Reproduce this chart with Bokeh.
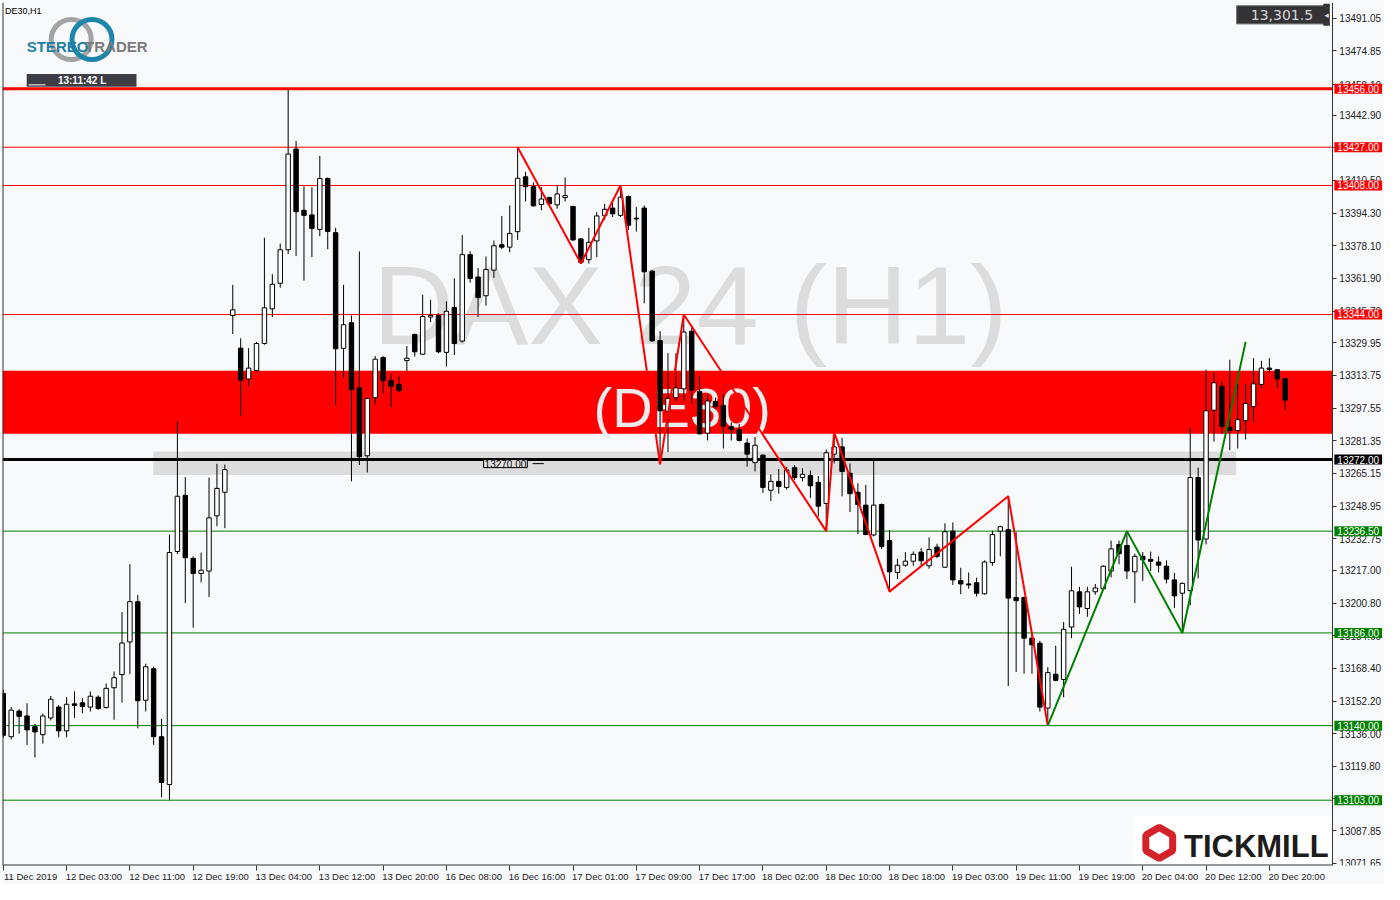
from bokeh.plotting import figure
from bokeh.models import (Range1d, LinearAxis, FixedTicker, Span, BoxAnnotation,
                          Label, NumeralTickFormatter, ColumnDataSource)
from bokeh.embed import file_html
from bokeh.resources import INLINE

# ---------------- data (DE30, H1, 11-20 Dec 2019) ----------------
open_ = [13156.0, 13134.5, 13147.2, 13144.8, 13139.5, 13135.5, 13143.8, 13149.2, 13137.4, 13150.8,
         13151.3, 13149.2, 13154.1, 13149.0, 13158.8, 13165.3, 13181.5, 13201.5, 13152.6, 13168.2,
         13134.5, 13110.8, 13226.4, 13254.3, 13223.0, 13215.5, 13216.7, 13244.1, 13255.8, 13343.5,
         13327.3, 13312.0, 13316.2, 13329.6, 13346.8, 13359.5, 13376.1, 13426.1, 13395.7, 13393.4,
         13386.2, 13411.5, 13384.6, 13327.2, 13339.9, 13307.6, 13273.9, 13302.7, 13322.6, 13311.2,
         13309.3, 13321.1, 13334.1, 13324.3, 13342.7, 13343.5, 13325.2, 13347.5, 13330.8, 13373.7,
         13362.6, 13353.3, 13366.0, 13378.6, 13377.4, 13385.1, 13412.3, 13407.4, 13398.6, 13402.0,
         13398.4, 13402.0, 13397.6, 13381.5, 13371.2, 13380.5, 13393.0, 13396.8, 13393.2, 13402.5,
         13391.8, 13396.8, 13365.5, 13331.1, 13295.9, 13302.7, 13307.1, 13335.7, 13305.7, 13285.1,
         13300.9, 13298.9, 13288.4, 13286.8, 13280.2, 13270.5, 13274.2, 13256.8, 13261.2, 13258.2,
         13268.0, 13263.1, 13264.1, 13260.7, 13250.2, 13274.7, 13278.3, 13265.2, 13255.8, 13249.4,
         13234.6, 13249.7, 13231.8, 13216.0, 13219.6, 13221.6, 13226.1, 13219.3, 13228.6, 13218.6,
         13236.5, 13211.9, 13210.3, 13210.9, 13205.4, 13220.9, 13236.5, 13237.2, 13203.6, 13203.6,
         13183.4, 13180.9, 13148.7, 13165.5, 13162.9, 13188.9, 13206.4, 13198.1, 13206.4, 13207.9,
         13216.7, 13229.9, 13229.4, 13216.3, 13224.0, 13222.5, 13221.2, 13219.1, 13212.3, 13205.7,
         13207.0, 13263.1, 13232.6, 13296.5, 13308.4, 13288.1, 13286.4, 13291.3, 13298.3, 13309.3,
         13317.4, 13316.6, 13312.2]
high = [13157.9, 13149.2, 13148.2, 13151.1, 13140.9, 13145.9, 13154.7, 13150.2, 13154.1, 13157.0,
        13153.6, 13157.0, 13155.0, 13160.9, 13166.9, 13196.3, 13220.1, 13204.9, 13170.7, 13169.2,
        13143.3, 13234.8, 13291.0, 13263.3, 13224.0, 13225.9, 13263.1, 13269.9, 13269.5, 13358.7,
        13332.2, 13327.3, 13330.4, 13382.1, 13364.0, 13379.2, 13456.0, 13430.1, 13407.6, 13407.1,
        13422.7, 13412.0, 13387.0, 13358.7, 13343.5, 13375.3, 13302.5, 13323.4, 13323.4, 13314.6,
        13313.7, 13328.3, 13334.5, 13353.8, 13351.3, 13344.6, 13350.5, 13361.9, 13383.4, 13375.3,
        13367.1, 13372.8, 13380.7, 13392.9, 13398.1, 13427.0, 13414.8, 13409.5, 13407.1, 13402.5,
        13408.4, 13412.0, 13398.0, 13382.0, 13387.0, 13394.8, 13398.9, 13399.7, 13408.0, 13403.0,
        13397.3, 13398.1, 13366.0, 13335.8, 13324.8, 13324.8, 13344.0, 13338.6, 13313.3, 13304.4,
        13302.7, 13304.4, 13290.5, 13289.7, 13282.4, 13283.2, 13274.6, 13264.7, 13267.3, 13268.5,
        13269.3, 13267.7, 13266.6, 13263.9, 13277.0, 13285.6, 13282.8, 13270.1, 13260.3, 13259.5,
        13272.9, 13250.2, 13237.0, 13222.8, 13226.1, 13226.4, 13228.1, 13233.4, 13230.2, 13240.4,
        13240.8, 13218.3, 13216.0, 13213.4, 13222.0, 13236.7, 13239.2, 13253.8, 13235.9, 13204.0,
        13186.1, 13182.1, 13169.0, 13179.6, 13191.4, 13218.8, 13208.9, 13208.9, 13210.3, 13219.6,
        13231.8, 13231.8, 13236.5, 13225.3, 13226.1, 13226.4, 13224.0, 13222.0, 13215.8, 13211.0,
        13287.6, 13268.0, 13316.6, 13315.5, 13310.9, 13321.5, 13309.6, 13309.6, 13322.3, 13321.0,
        13322.3, 13316.9, 13312.5]
low = [13134.0, 13133.2, 13136.0, 13130.4, 13124.2, 13131.1, 13142.6, 13134.3, 13134.3, 13143.8,
       13146.2, 13147.0, 13147.8, 13148.5, 13142.9, 13151.4, 13165.6, 13138.7, 13147.0, 13130.4,
       13104.5, 13103.0, 13225.1, 13200.8, 13188.6, 13211.1, 13203.8, 13238.9, 13238.0, 13334.3,
       13293.7, 13308.4, 13315.3, 13329.0, 13342.7, 13357.3, 13374.0, 13373.0, 13360.8, 13372.5,
       13382.8, 13376.4, 13299.1, 13312.5, 13261.2, 13269.3, 13265.6, 13299.1, 13304.8, 13298.1,
       13305.5, 13315.8, 13323.1, 13324.0, 13340.2, 13324.8, 13318.2, 13323.9, 13330.0, 13359.8,
       13342.7, 13348.4, 13362.2, 13376.4, 13374.9, 13381.0, 13400.1, 13397.5, 13395.7, 13398.5,
       13396.5, 13400.1, 13380.5, 13369.3, 13369.3, 13372.5, 13390.8, 13392.4, 13392.4, 13385.9,
       13385.1, 13349.5, 13330.4, 13270.0, 13275.8, 13301.1, 13301.1, 13299.5, 13284.5, 13281.5,
       13297.0, 13277.5, 13281.5, 13281.0, 13268.5, 13266.1, 13255.5, 13251.4, 13255.1, 13257.1,
       13261.9, 13261.2, 13253.0, 13243.7, 13236.5, 13270.1, 13253.8, 13246.0, 13235.0, 13234.5,
       13233.9, 13227.7, 13206.5, 13212.7, 13218.8, 13219.3, 13219.6, 13217.9, 13223.2, 13218.3,
       13209.8, 13205.2, 13207.9, 13204.1, 13205.0, 13219.3, 13224.0, 13159.7, 13166.6, 13165.8,
       13165.8, 13147.0, 13140.0, 13162.0, 13154.1, 13183.4, 13195.4, 13194.0, 13204.9, 13207.4,
       13213.5, 13220.1, 13212.7, 13200.8, 13211.8, 13216.7, 13216.0, 13210.6, 13198.4, 13186.0,
       13199.7, 13213.0, 13229.9, 13281.0, 13284.8, 13276.6, 13277.5, 13282.0, 13290.5, 13307.6,
       13314.9, 13307.6, 13296.6]
close = [13135.2, 13147.7, 13144.6, 13137.9, 13136.9, 13144.8, 13153.1, 13137.4, 13150.6, 13150.0,
         13149.5, 13154.6, 13148.5, 13158.5, 13163.8, 13181.0, 13201.5, 13152.4, 13169.2, 13134.5,
         13111.8, 13225.9, 13253.8, 13223.3, 13215.5, 13217.1, 13243.1, 13257.7, 13267.0, 13346.3,
         13311.4, 13317.4, 13329.6, 13347.3, 13359.0, 13376.1, 13423.6, 13395.0, 13393.2, 13386.7,
         13411.5, 13385.2, 13327.0, 13338.9, 13306.8, 13273.4, 13302.3, 13321.8, 13311.2, 13308.4,
         13306.3, 13322.3, 13325.5, 13343.0, 13343.5, 13325.5, 13345.6, 13329.6, 13373.7, 13361.9,
         13352.4, 13366.3, 13378.1, 13377.4, 13384.2, 13411.6, 13407.4, 13397.9, 13401.3, 13398.9,
         13403.8, 13403.0, 13381.0, 13369.9, 13379.8, 13392.9, 13396.2, 13394.0, 13402.2, 13388.3,
         13391.4, 13365.2, 13330.9, 13296.2, 13302.4, 13307.6, 13335.3, 13306.5, 13284.8, 13301.1,
         13298.3, 13288.6, 13286.9, 13281.5, 13274.7, 13279.1, 13258.2, 13261.2, 13258.7, 13266.8,
         13263.1, 13264.7, 13259.0, 13248.9, 13275.4, 13278.3, 13266.1, 13255.1, 13249.7, 13234.8,
         13249.4, 13228.9, 13216.3, 13219.6, 13221.6, 13225.0, 13221.8, 13227.4, 13224.0, 13236.2,
         13212.3, 13210.3, 13209.8, 13205.7, 13221.2, 13234.8, 13238.7, 13203.3, 13202.0, 13183.4,
         13180.1, 13149.2, 13166.3, 13162.5, 13187.8, 13206.9, 13198.9, 13206.4, 13208.3, 13219.1,
         13227.7, 13225.3, 13216.7, 13224.0, 13222.3, 13221.6, 13219.6, 13212.7, 13204.4, 13210.6,
         13263.1, 13232.1, 13296.2, 13310.1, 13288.4, 13286.4, 13291.8, 13299.8, 13309.6, 13317.4,
         13316.7, 13312.0, 13301.5]

time_label_bars = [0, 8, 16, 24, 32, 40, 48, 56, 64, 72, 80, 88, 96, 104, 112, 120, 128, 136, 144, 152, 160]
time_labels = ["11 Dec 2019", "12 Dec 03:00", "12 Dec 11:00", "12 Dec 19:00", "13 Dec 04:00",
               "13 Dec 12:00", "13 Dec 20:00", "16 Dec 08:00", "16 Dec 16:00", "17 Dec 01:00",
               "17 Dec 09:00", "17 Dec 17:00", "18 Dec 02:00", "18 Dec 10:00", "18 Dec 18:00",
               "19 Dec 03:00", "19 Dec 11:00", "19 Dec 19:00", "20 Dec 04:00", "20 Dec 12:00",
               "20 Dec 20:00"]
y_ticks = [13491.05, 13474.85, 13458.10, 13442.90, 13426.70, 13410.50, 13394.30, 13378.10,
           13361.90, 13345.70, 13329.95, 13313.75, 13297.55, 13281.35, 13265.15, 13248.95,
           13232.75, 13217.00, 13200.80, 13184.60, 13168.40, 13152.20, 13136.00, 13119.80,
           13103.65, 13087.85, 13071.65]

resistance_levels = [13456.0, 13427.0, 13408.0, 13344.0]
resistance_widths = [3, 1, 1, 1]
support_levels = [13236.5, 13186.0, 13140.0, 13103.0]
pivot_level = 13272.0
zone_top, zone_bottom = 13316.1, 13284.8
grey_zone_top, grey_zone_bottom = 13276.0, 13264.3
grey_zone_start, grey_zone_end = 18.96, 155.8
grey_zone_price = 13270.0

red_zz_x = [65, 73, 78, 83, 86, 104, 105, 112, 127, 132]
red_zz_y = [13427.0, 13369.3, 13408.0, 13269.6, 13344.0, 13236.5, 13285.6, 13206.5, 13253.8, 13140.0]
green_zz_x = [132, 142, 149, 157]
green_zz_y = [13140.0, 13236.5, 13186.0, 13330.4]

last_price = "13,301.5"

# ---------------- layout ----------------
BG = "#F8F9FB"
FONT = "Liberation Sans"
X0, XE = -0.1, 174.55       # frame spans the whole width; price axis drawn at X_AXIS
X_AXIS = 167.96
Y0, Y1 = 13070.6, 13498.8


def px2x(px):  # reference pixel -> bar coordinate (decorations only)
    return (px - 3.33) / 8.0


def px2y(py):  # reference pixel -> price (decorations only)
    return 13500.0 - 0.4891 * py


p = figure(width=1384, height=884, output_backend="svg", toolbar_location=None,
           x_range=Range1d(X0, XE), y_range=Range1d(Y0, Y1), y_axis_location="right",
           min_border_left=2, min_border_top=2, min_border_right=0, min_border_bottom=0,
           background_fill_color=BG, border_fill_color=BG)
p.grid.visible = False
p.outline_line_color = None

# price axis (real Bokeh axis, pinned at the chart's right edge)
ya = p.yaxis[0]
ya.fixed_location = X_AXIS
ya.ticker = FixedTicker(ticks=y_ticks)
ya.formatter = NumeralTickFormatter(format="0.00")
ya.major_tick_out = 4
ya.major_tick_in = 0
ya.minor_tick_line_color = None
ya.major_label_standoff = 3
ya.major_label_text_font = FONT
ya.major_label_text_font_size = "10px"
ya.major_label_text_color = "#1a1a1a"
ya.axis_line_color = "#333333"
ya.major_tick_line_color = "#333333"

# time axis: tick marks only (its line is drawn below, stopping at the price axis)
xa = p.xaxis[0]
xa.ticker = FixedTicker(ticks=time_label_bars)
xa.major_label_overrides = {b: "" for b in time_label_bars}
xa.major_label_text_font_size = "1px"
xa.major_label_standoff = 0
xa.major_tick_out = 5
xa.major_tick_in = 0
xa.minor_tick_line_color = None
xa.axis_line_color = None
xa.major_tick_line_color = "#333333"

# time axis labels: left-aligned after each tick (shifted range)
LABEL_SHIFT = 3.45
p.extra_x_ranges = {"lab": Range1d(X0 - LABEL_SHIFT, XE - LABEL_SHIFT)}
la = LinearAxis(x_range_name="lab", ticker=FixedTicker(ticks=time_label_bars),
                major_label_overrides={b: t for b, t in zip(time_label_bars, time_labels)},
                major_tick_out=0, major_tick_in=0, minor_tick_line_color=None,
                axis_line_color=None, major_tick_line_color=None, major_label_standoff=0,
                major_label_text_font=FONT, major_label_text_font_size="9.5px",
                major_label_text_color="#1a1a1a")
p.add_layout(la, "below")

# frame border (left)
p.add_layout(Span(location=X0, dimension="height", line_color="#333333", line_width=2))

# ---------------- background objects ----------------
p.add_layout(BoxAnnotation(bottom=zone_bottom, top=zone_top, right=X_AXIS, fill_color="#FF0000",
                           fill_alpha=1.0, line_alpha=0, level="underlay"))
p.add_layout(BoxAnnotation(left=grey_zone_start, right=grey_zone_end, bottom=grey_zone_bottom,
                           top=grey_zone_top, fill_color="#DCDCDC", fill_alpha=1.0, line_alpha=0,
                           level="underlay"))

p.add_layout(Label(x=86.8, y=px2y(310), text="DAX 24 (H1)", text_align="center",
                   text_baseline="alphabetic", text_font=FONT, text_font_size="112px",
                   text_color="#DCDCDC", level="underlay"))
p.add_layout(Label(x=85.8, y=px2y(413), text="(DE30)", text_align="center",
                   text_baseline="alphabetic", text_font=FONT, text_font_size="56px",
                   text_color="#EBEBEB", level="underlay"))

# Tickmill box (underlay)
p.add_layout(BoxAnnotation(left=px2x(1146), right=X_AXIS, bottom=Y0, top=px2y(828), fill_color="#FFFFFF",
                           fill_alpha=1.0, line_alpha=0, level="underlay"))

# bottom frame line (stops at the price axis)
p.segment(x0=[X0], y0=[Y0], x1=[X_AXIS], y1=[Y0], line_color="#333333", line_width=2)

# horizontal levels (stop at the price axis)
lvl_y = resistance_levels + [pivot_level] + support_levels
lvl_col = ["#FF0000"] * len(resistance_levels) + ["#000000"] + ["#008000"] * len(support_levels)
lvl_w = resistance_widths + [3] + [1] * len(support_levels)
p.segment(x0=[X0] * len(lvl_y), y0=lvl_y, x1=[X_AXIS] * len(lvl_y), y1=lvl_y,
          line_color=lvl_col, line_width=lvl_w)

# ---------------- candles ----------------
bars = list(range(len(open_)))
src = ColumnDataSource(dict(
    x=bars, high=high, low=low,
    top=[max(o, c) for o, c in zip(open_, close)],
    bottom=[min(o, c) for o, c in zip(open_, close)],
    fill=["#FFFFFF" if c > o else "#000000" for o, c in zip(open_, close)],
))
p.segment(x0="x", y0="low", x1="x", y1="high", source=src, line_color="#000000", line_width=1)
p.vbar(x="x", width=0.56, top="top", bottom="bottom", fill_color="fill", line_color="#000000",
       line_width=1, source=src)

# zigzags
p.line(red_zz_x, red_zz_y, line_color="#FF0000", line_width=2)
p.line(green_zz_x, green_zz_y, line_color="#008000", line_width=2)

# grey zone price tag
p.add_layout(Label(x=60.7, y=grey_zone_price, text=f"{grey_zone_price:.2f}", text_align="left",
                   text_baseline="middle", text_font=FONT, text_font_size="10px", text_color="#000000",
                   background_fill_color="#E2E2E2", border_line_color="#000000", border_line_width=1,
                   padding=(1, 0)))
p.segment(x0=[66.9], y0=[grey_zone_price], x1=[68.3], y1=[grey_zone_price], line_color="#000000", line_width=1)

# ---------------- price tags on the axis (drawn above the axis labels) ----------------
for lvl, col in zip(lvl_y, lvl_col):
    p.add_layout(Label(x=X_AXIS, y=lvl, x_offset=2, text=f"{lvl:.2f}", text_align="left",
                       text_baseline="middle", text_font=FONT, text_font_size="10px",
                       text_color="#FFFFFF", background_fill_color=col, background_fill_alpha=1.0,
                       padding=(3, 1), level="overlay"))

# ---------------- decorations ----------------
p.add_layout(Label(x=px2x(5), y=px2y(11), text="DE30,H1", text_align="left", text_baseline="middle",
                   text_font=FONT, text_font_size="9px", text_color="#000000"))

# StereoTrader logo
p.scatter(x=[px2x(72)], y=[px2y(40)], size=40, marker="circle", fill_color=None,
          line_color="#A3A3A3", line_width=5)
p.scatter(x=[px2x(93)], y=[px2y(40)], size=40, marker="circle", fill_color=None,
          line_color="#1F86AB", line_width=5)
p.add_layout(Label(x=px2x(27), y=px2y(47), text="STEREO", text_align="left", text_baseline="alphabetic",
                   text_font=FONT, text_font_size="15px", text_font_style="bold",
                   text_color="#1F7FA3"))
p.add_layout(Label(x=px2x(86), y=px2y(47), text="TRADER", text_align="left", text_baseline="alphabetic",
                   text_font=FONT, text_font_size="15px", text_font_style="bold",
                   text_color="#7A7A7A"))

# clock box
p.quad(left=[px2x(27)], right=[px2x(138)], top=[px2y(75)], bottom=[px2y(88)], fill_color="#3D3D45",
       line_color=None)
p.segment(x0=[px2x(29)], y0=[px2y(86)], x1=[px2x(46)], y1=[px2y(86)], line_color="#FFFFFF", line_width=1)
p.add_layout(Label(x=px2x(83), y=px2y(81.5), text="13:11:42 L", text_align="center", text_baseline="middle",
                   text_font=FONT, text_font_size="10px", text_font_style="bold", text_color="#FFFFFF"))

# last price box
p.add_layout(Label(x=px2x(1296), y=px2y(15), text=last_price, text_align="center", text_baseline="middle",
                   text_font="DejaVu Sans", text_font_size="14px", text_color="#D6D6D6",
                   background_fill_color="#343436", border_line_color="#5A5A5A", border_line_width=1,
                   padding=(14, 4)))
p.add_layout(Label(x=X_AXIS, x_offset=-9, y=px2y(15), text="\u25c2", text_align="left", text_baseline="middle",
                   text_font="DejaVu Sans", text_font_size="9px", text_color="#D6D6D6",
                   background_fill_color="#343436", padding=(1, 6)))

# Tickmill logo
p.scatter(x=[px2x(1172)], y=[px2y(855)], size=31, marker="hex", angle=0.5236, fill_color=None,
          line_color="#D2232A", line_width=7)
p.add_layout(Label(x=px2x(1197), y=px2y(859), text="TICKMILL", text_align="left", text_baseline="alphabetic",
                   text_font=FONT, text_font_size="31px", text_font_style="bold", text_color="#1C1C1C"))

open("out.html", "w").write(file_html(p, INLINE))
